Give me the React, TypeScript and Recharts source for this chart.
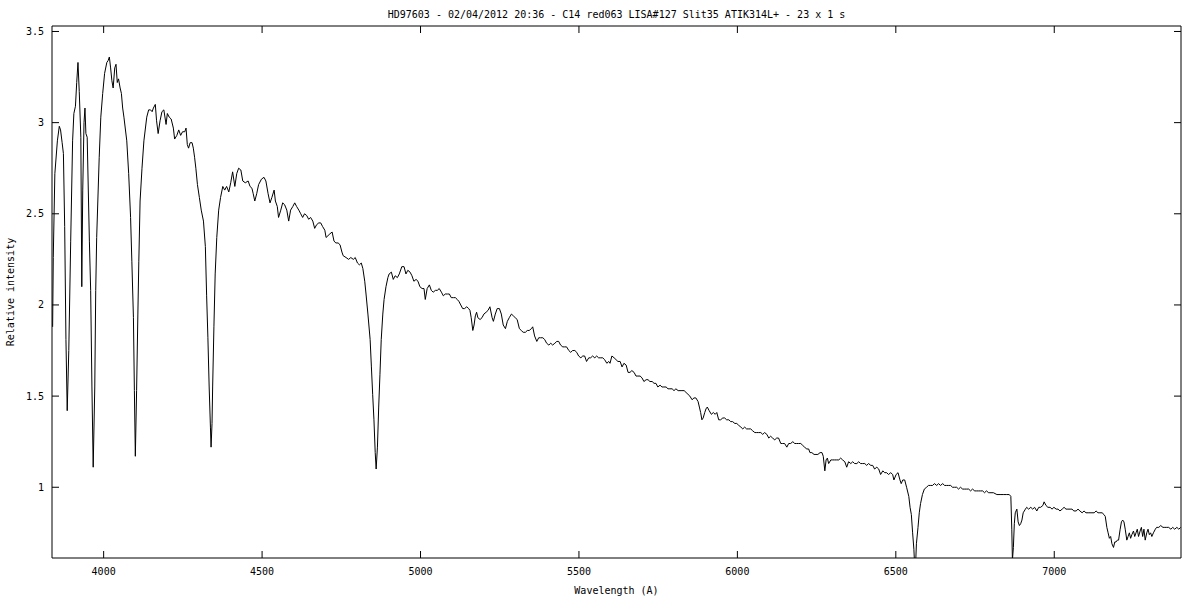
import { LineChart, Line, XAxis, YAxis, Label } from 'recharts';

const FONT = '"DejaVu Sans Mono", monospace';

const title = 'HD97603 - 02/04/2012 20:36 - C14 red063 LISA#127 Slit35 ATIK314L+ - 23 x 1 s';
const xTicks = [4000, 4500, 5000, 5500, 6000, 6500, 7000];
const yTicks = [1, 1.5, 2, 2.5, 3, 3.5];

// [wavelength (A), relative intensity]
const violetBand: [number, number][] = [
  [3839, 1.88], [3841, 2.26], [3846, 2.72], [3854, 2.9], [3860, 2.98], [3864, 2.96], [3869, 2.89], [3873, 2.83],
  [3877, 2.43], [3881, 1.81], [3885, 1.42], [3890, 1.75], [3896, 2.35], [3902, 2.9], [3906, 3.05], [3911, 3.09],
  [3915, 3.22], [3919, 3.33], [3923, 3.17], [3928, 2.92], [3931, 2.1], [3934, 2.63], [3938, 3.0], [3941, 3.08],
  [3944, 2.94], [3948, 2.92], [3955, 2.35], [3959, 2.08], [3963, 1.55], [3967, 1.11], [3972, 1.55], [3975, 2.08],
  [3978, 2.37], [3986, 2.81], [3991, 3.03], [3997, 3.16], [4003, 3.27], [4010, 3.33], [4014, 3.34], [4018, 3.36],
  [4022, 3.3], [4026, 3.23], [4030, 3.19], [4035, 3.3], [4039, 3.32], [4043, 3.22], [4047, 3.24], [4052, 3.19],
  [4056, 3.16], [4060, 3.08], [4064, 3.03], [4073, 2.9], [4079, 2.72], [4085, 2.48], [4089, 2.24], [4094, 1.93],
  [4097, 1.53], [4100, 1.17], [4104, 1.53], [4108, 1.95], [4111, 2.24], [4115, 2.57], [4121, 2.75], [4127, 2.9],
  [4136, 3.03], [4142, 3.07], [4148, 3.07], [4153, 3.06], [4157, 3.08], [4163, 3.1], [4167, 3.01], [4172, 2.94],
  [4178, 3.01], [4184, 3.06], [4190, 3.07], [4197, 2.99], [4201, 3.05], [4207, 3.03], [4213, 3.02], [4220, 2.97],
  [4224, 2.91], [4231, 2.93], [4237, 2.96], [4243, 2.93], [4249, 2.95], [4256, 2.95], [4260, 2.97], [4264, 2.88],
  [4268, 2.86], [4273, 2.89], [4279, 2.89], [4283, 2.86], [4287, 2.81], [4291, 2.75], [4296, 2.66], [4302, 2.59],
  [4308, 2.52], [4315, 2.46], [4321, 2.32], [4325, 2.05], [4329, 1.82], [4333, 1.55], [4337, 1.33], [4339, 1.22],
  [4342, 1.35], [4344, 1.55], [4348, 1.88],
];

const blueBand: [number, number][] = [
  [4352, 2.17], [4357, 2.37], [4363, 2.52], [4369, 2.59], [4376, 2.65], [4382, 2.63], [4388, 2.65], [4395, 2.62],
  [4401, 2.67], [4407, 2.73], [4414, 2.65], [4420, 2.72], [4426, 2.75], [4433, 2.74], [4439, 2.68], [4447, 2.67],
  [4456, 2.68], [4462, 2.65], [4468, 2.64], [4472, 2.61], [4477, 2.57], [4483, 2.61], [4489, 2.66], [4498, 2.69],
  [4506, 2.7], [4512, 2.68], [4519, 2.61], [4525, 2.56], [4531, 2.59], [4538, 2.63], [4542, 2.57], [4548, 2.54],
  [4552, 2.48], [4559, 2.52], [4565, 2.56], [4571, 2.55], [4578, 2.52], [4584, 2.46], [4590, 2.52], [4597, 2.54],
  [4603, 2.56], [4609, 2.54], [4616, 2.52], [4622, 2.5], [4628, 2.48], [4634, 2.5], [4641, 2.49], [4647, 2.47],
  [4653, 2.48], [4660, 2.46], [4666, 2.42], [4672, 2.44], [4679, 2.45], [4685, 2.45], [4691, 2.43], [4698, 2.41],
  [4702, 2.37], [4708, 2.38], [4714, 2.39], [4721, 2.4], [4727, 2.35], [4733, 2.34], [4740, 2.34], [4746, 2.33],
  [4752, 2.29], [4756, 2.27], [4765, 2.26], [4773, 2.25], [4780, 2.26], [4788, 2.25], [4794, 2.26], [4801, 2.23],
  [4807, 2.22], [4813, 2.23], [4818, 2.2], [4824, 2.13], [4828, 2.06], [4834, 1.95], [4841, 1.81], [4845, 1.66],
  [4849, 1.51], [4853, 1.37], [4857, 1.19], [4860, 1.1], [4864, 1.22], [4868, 1.44], [4872, 1.62], [4876, 1.81],
  [4881, 1.95], [4885, 2.03], [4891, 2.1], [4897, 2.15], [4901, 2.17], [4908, 2.18], [4914, 2.14], [4920, 2.16],
  [4927, 2.15], [4933, 2.17],
];

const greenBand: [number, number][] = [
  [4941, 2.21], [4948, 2.21], [4954, 2.17], [4960, 2.19], [4967, 2.18], [4973, 2.16], [4979, 2.13], [4986, 2.14],
  [4992, 2.13], [4998, 2.1], [5005, 2.09], [5011, 2.09], [5015, 2.03], [5021, 2.09], [5028, 2.11], [5034, 2.08],
  [5040, 2.07], [5047, 2.08], [5053, 2.08], [5059, 2.09], [5066, 2.07], [5072, 2.05], [5078, 2.06], [5085, 2.06],
  [5091, 2.06], [5097, 2.04], [5104, 2.04], [5110, 2.04], [5116, 2.03], [5121, 2.02], [5127, 2.0], [5133, 1.98],
  [5139, 1.98], [5146, 1.99], [5152, 1.98], [5156, 1.97], [5160, 1.93], [5165, 1.86], [5169, 1.89], [5173, 1.94],
  [5177, 1.96], [5181, 1.93], [5188, 1.92], [5194, 1.93], [5200, 1.95], [5207, 1.96], [5213, 1.97], [5219, 1.99],
  [5226, 1.93], [5230, 1.91], [5236, 1.95], [5242, 1.98], [5249, 1.98], [5255, 1.95], [5261, 1.89], [5268, 1.87],
  [5274, 1.91], [5280, 1.93], [5287, 1.95], [5293, 1.94], [5299, 1.93], [5305, 1.92], [5312, 1.87], [5318, 1.86],
  [5324, 1.85], [5331, 1.85], [5337, 1.86], [5343, 1.86], [5350, 1.87], [5354, 1.88], [5360, 1.83], [5367, 1.8],
  [5373, 1.82], [5379, 1.82], [5386, 1.82], [5392, 1.81], [5398, 1.79], [5405, 1.78], [5411, 1.79], [5417, 1.78],
  [5424, 1.79], [5430, 1.8], [5436, 1.8], [5442, 1.78], [5449, 1.77], [5455, 1.77], [5461, 1.77], [5468, 1.75],
  [5474, 1.74], [5480, 1.75], [5487, 1.75], [5493, 1.74], [5499, 1.72], [5506, 1.71], [5512, 1.72], [5518, 1.72],
  [5524, 1.69], [5531, 1.71], [5537, 1.71], [5543, 1.72], [5550, 1.71], [5556, 1.72], [5562, 1.71], [5569, 1.71],
  [5575, 1.71], [5581, 1.7], [5588, 1.68], [5594, 1.69],
];

const yellowBand: [number, number][] = [
  [5598, 1.68], [5604, 1.72], [5611, 1.71], [5617, 1.7], [5623, 1.69], [5630, 1.69], [5636, 1.66], [5642, 1.68],
  [5649, 1.67], [5655, 1.63], [5661, 1.63], [5667, 1.64], [5674, 1.63], [5680, 1.61], [5686, 1.61], [5693, 1.61],
  [5699, 1.6], [5705, 1.58], [5712, 1.59], [5718, 1.59], [5724, 1.58], [5731, 1.58], [5737, 1.57], [5743, 1.57],
  [5749, 1.55], [5756, 1.56], [5762, 1.55], [5768, 1.55], [5775, 1.55], [5781, 1.54], [5787, 1.54], [5794, 1.54],
  [5800, 1.53], [5806, 1.54], [5813, 1.53], [5819, 1.53], [5825, 1.53], [5832, 1.53], [5838, 1.52], [5844, 1.51],
  [5850, 1.5], [5857, 1.48], [5863, 1.49], [5869, 1.49], [5876, 1.47], [5880, 1.44], [5884, 1.41], [5888, 1.37],
  [5892, 1.38], [5897, 1.41], [5901, 1.43], [5905, 1.44], [5911, 1.42], [5918, 1.4], [5924, 1.41], [5930, 1.4],
  [5935, 1.41], [5941, 1.37], [5947, 1.37], [5954, 1.38], [5960, 1.38], [5966, 1.37], [5973, 1.37], [5979, 1.36],
  [5985, 1.36], [5992, 1.35], [5998, 1.35], [6004, 1.34], [6011, 1.33], [6017, 1.32], [6023, 1.33], [6029, 1.32],
  [6036, 1.32], [6042, 1.32], [6048, 1.31], [6055, 1.3], [6061, 1.3], [6067, 1.3], [6074, 1.3], [6080, 1.29],
  [6086, 1.3], [6093, 1.29], [6099, 1.27], [6105, 1.28], [6111, 1.27], [6118, 1.26], [6124, 1.27], [6130, 1.27],
  [6137, 1.24], [6143, 1.24], [6149, 1.24], [6156, 1.22], [6162, 1.24], [6168, 1.24], [6175, 1.25], [6181, 1.24],
  [6187, 1.24], [6193, 1.24], [6200, 1.24], [6206, 1.23], [6212, 1.22], [6219, 1.21], [6225, 1.21],
];

const redBand: [number, number][] = [
  [6229, 1.19], [6235, 1.19], [6242, 1.18], [6248, 1.18], [6254, 1.18], [6261, 1.19], [6267, 1.19], [6271, 1.17],
  [6276, 1.09], [6280, 1.15], [6284, 1.16], [6288, 1.13], [6295, 1.15], [6301, 1.15], [6307, 1.15], [6313, 1.15],
  [6320, 1.15], [6326, 1.16], [6332, 1.15], [6339, 1.14], [6345, 1.11], [6351, 1.14], [6358, 1.13], [6364, 1.14],
  [6370, 1.13], [6377, 1.13], [6383, 1.14], [6389, 1.13], [6395, 1.13], [6402, 1.13], [6408, 1.12], [6414, 1.13],
  [6421, 1.12], [6427, 1.12], [6433, 1.1], [6440, 1.11], [6446, 1.1], [6452, 1.07], [6459, 1.09], [6465, 1.08],
  [6471, 1.08], [6477, 1.07], [6484, 1.08], [6490, 1.07], [6494, 1.04], [6501, 1.07], [6507, 1.08], [6513, 1.04],
  [6517, 1.02], [6522, 1.04], [6528, 1.04], [6534, 1.0], [6541, 0.95], [6545, 0.89], [6549, 0.85], [6553, 0.75],
  [6557, 0.66], [6560, 0.55], [6563, 0.6], [6565, 0.69], [6570, 0.78], [6574, 0.86], [6578, 0.91], [6584, 0.96],
  [6590, 0.99], [6597, 1.0], [6603, 1.01], [6610, 1.01], [6616, 1.01], [6622, 1.02], [6629, 1.01], [6635, 1.02],
  [6641, 1.01], [6648, 1.02], [6654, 1.01], [6660, 1.01], [6666, 1.01], [6673, 1.01], [6679, 1.0], [6685, 1.0],
  [6692, 1.0], [6698, 0.99], [6704, 1.0], [6711, 0.99], [6717, 0.99], [6723, 0.99], [6730, 0.99], [6736, 0.98],
  [6742, 0.99], [6749, 0.98], [6755, 0.98], [6761, 0.98], [6767, 0.98], [6774, 0.98], [6780, 0.97], [6786, 0.98],
  [6793, 0.97],
];

const farRedBand: [number, number][] = [
  [6797, 0.97], [6808, 0.97], [6819, 0.96], [6829, 0.96], [6839, 0.96], [6850, 0.96], [6858, 0.96], [6863, 0.95],
  [6866, 0.77], [6868, 0.6], [6871, 0.67], [6874, 0.8], [6877, 0.86], [6882, 0.88], [6886, 0.81], [6890, 0.79],
  [6894, 0.8], [6898, 0.82], [6902, 0.86], [6909, 0.88], [6913, 0.89], [6919, 0.88], [6926, 0.89], [6932, 0.88],
  [6938, 0.89], [6945, 0.87], [6951, 0.89], [6957, 0.89], [6964, 0.9], [6968, 0.92], [6974, 0.9], [6980, 0.89],
  [6987, 0.89], [6993, 0.88], [6999, 0.89], [7006, 0.88], [7012, 0.88], [7018, 0.87], [7025, 0.88], [7031, 0.89],
  [7037, 0.88], [7043, 0.88], [7050, 0.88], [7056, 0.88], [7062, 0.87], [7069, 0.87], [7075, 0.88], [7081, 0.87],
  [7088, 0.86], [7094, 0.87], [7100, 0.86], [7107, 0.86], [7113, 0.86], [7119, 0.86], [7126, 0.86], [7132, 0.87],
  [7138, 0.86], [7144, 0.86], [7151, 0.86], [7157, 0.85], [7161, 0.84], [7166, 0.78], [7170, 0.75], [7174, 0.72],
  [7178, 0.73], [7182, 0.69], [7187, 0.67], [7191, 0.7], [7195, 0.7], [7199, 0.71], [7203, 0.71], [7208, 0.77],
  [7212, 0.81], [7216, 0.82], [7220, 0.81], [7224, 0.77], [7229, 0.71], [7233, 0.73], [7237, 0.75], [7241, 0.72],
  [7245, 0.74], [7250, 0.76], [7254, 0.73], [7258, 0.75], [7262, 0.77], [7266, 0.73], [7271, 0.76], [7275, 0.78],
  [7279, 0.73], [7283, 0.77], [7287, 0.71], [7292, 0.75], [7296, 0.77], [7300, 0.74], [7304, 0.75], [7308, 0.73],
  [7313, 0.75], [7319, 0.77], [7323, 0.78], [7330, 0.78], [7336, 0.79], [7343, 0.78], [7349, 0.78], [7355, 0.78],
  [7361, 0.78], [7368, 0.77], [7374, 0.78], [7380, 0.77], [7387, 0.78], [7393, 0.77], [7399, 0.78],
];

const spectrum = [...violetBand, ...blueBand, ...greenBand, ...yellowBand, ...redBand, ...farRedBand].map(
  ([wl, flux]) => ({ wl, flux })
);

const xDomain: [number, number] = [3837, 7400];
const yDomain: [number, number] = [0.612, 3.53];
const textStyle = { fill: '#000', fontSize: 10, fontFamily: FONT };

// mirror axes keep their tick marks but draw no label
const NoLabel = () => <g />;

export default function App() {
  return (
    <div style={{ position: 'absolute', left: 0, top: 0, background: '#fff' }}>
      <LineChart width={1200} height={600} data={spectrum} margin={{ top: 25, right: 18, bottom: 0, left: 0 }}>
        <XAxis
          dataKey="wl"
          type="number"
          domain={xDomain}
          ticks={xTicks}
          interval={0}
          allowDataOverflow
          height={42}
          tickSize={-7}
          tickMargin={17}
          stroke="#000"
          tick={textStyle}
        >
          <Label value="Wavelength (A)" position="insideBottom" offset={6} style={textStyle} />
        </XAxis>
        {/* mirrored ticks on top, gnuplot style (height 1 so the axis still renders) */}
        <XAxis
          xAxisId="top"
          orientation="top"
          dataKey="wl"
          type="number"
          domain={xDomain}
          ticks={xTicks}
          interval={0}
          allowDataOverflow
          height={1}
          tickSize={-7}
          tick={NoLabel}
          stroke="#000"
        >
          <Label value={title} position="top" offset={7} style={textStyle} />
        </XAxis>
        <YAxis
          type="number"
          domain={yDomain}
          ticks={yTicks}
          interval={0}
          allowDataOverflow
          width={52}
          tickSize={-7}
          tickMargin={15}
          stroke="#000"
          tick={textStyle}
        >
          <Label
            value="Relative intensity"
            angle={-90}
            position="insideLeft"
            offset={10}
            style={{ ...textStyle, textAnchor: 'middle' }}
          />
        </YAxis>
        <YAxis
          yAxisId="right"
          orientation="right"
          type="number"
          domain={yDomain}
          ticks={yTicks}
          interval={0}
          allowDataOverflow
          width={1}
          tickSize={-7}
          tick={NoLabel}
          stroke="#000"
        />
        <Line
          dataKey="flux"
          type="linear"
          stroke="#000"
          strokeWidth={1}
          dot={false}
          activeDot={false}
          isAnimationActive={false}
        />
      </LineChart>
    </div>
  );
}
